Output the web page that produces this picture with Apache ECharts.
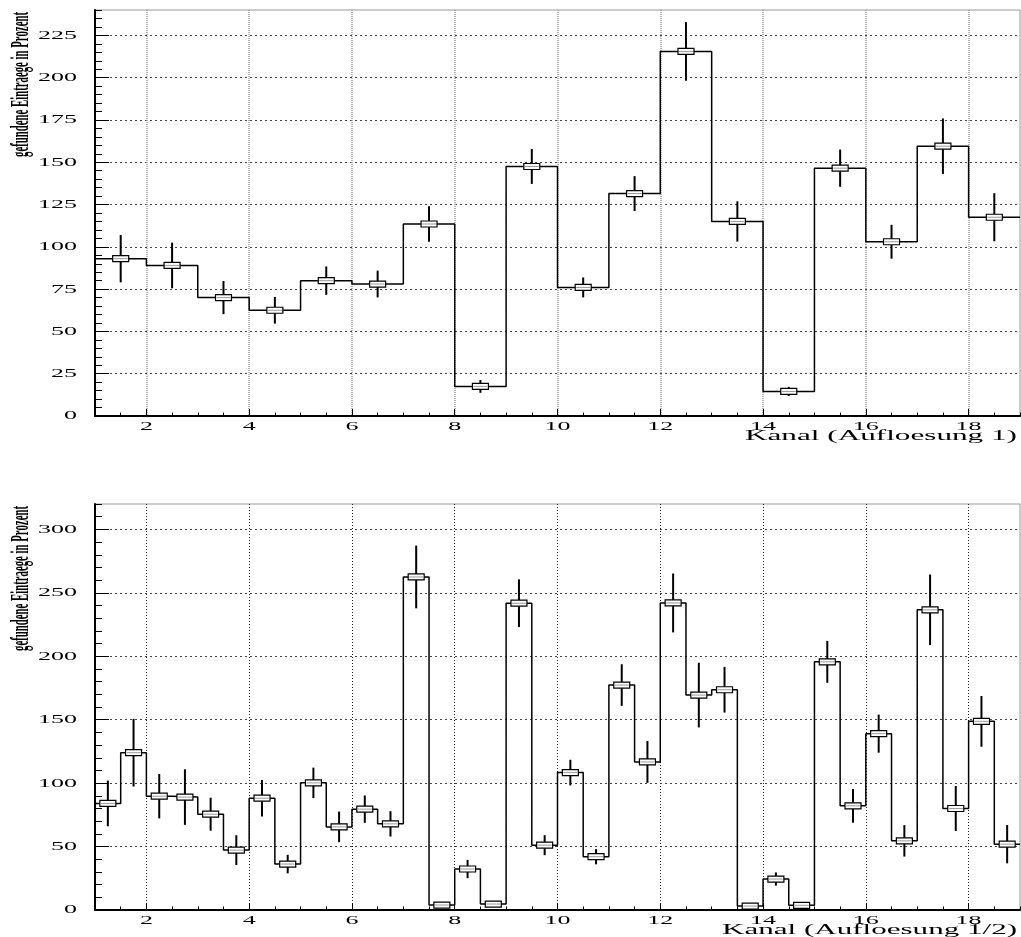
<!DOCTYPE html>
<html><head><meta charset="utf-8">
<script src="https://cdn.jsdelivr.net/npm/echarts@6/dist/echarts.min.js"></script>
<style>html,body{margin:0;padding:0;background:#fff}#c{width:1021px;height:937px}</style>
</head><body><div id="c"></div>
<script>
// ---- data ----
const xMin = 1, xMax = 19;
const xTickLabels = [2, 4, 6, 8, 10, 12, 14, 16, 18];
const topYTicks = [0, 25, 50, 75, 100, 125, 150, 175, 200, 225];
const botYTicks = [0, 50, 100, 150, 200, 250, 300];
const yTitle = 'gefundene Eintraege in Prozent';
const topXTitle = 'Kanal (Aufloesung 1)';
const botXTitle = 'Kanal (Aufloesung 1/2)';
// resolution 1 : 18 bins of width 1
const topValues = [93, 89, 70, 62.5, 80, 78, 113.5, 17.5, 147.5, 76, 131.5, 215.5, 115, 14.5, 146.5, 103, 159.5, 117.5];
const topErrors = [14, 13.5, 9.8, 7.9, 8.4, 7.9, 10.5, 3.8, 10.3, 5.9, 10.3, 17.3, 11.9, 2.7, 11, 10, 16.4, 14.2];
// resolution 1/2 : 36 bins of width 0.5
const botValues = [84, 124, 89.7, 89, 75.5, 47.2, 88.1, 36.2, 100.2, 65.5,
  79.5, 67.9, 262.5, 3.9, 32.3, 4.7, 241.8, 51.1, 108.3, 42, 177.3, 116.7,
  242, 169.4, 173.6, 3.1, 24.4, 3.7, 195.6, 82.1, 139, 54.5, 236.6, 80, 148.7, 51.9];
const botErrors = [18, 26.7, 17.5, 21.9, 13, 11.7, 14.4, 7.3, 12, 12.1,
  10.8, 10, 24.7, 1.5, 7.2, 1.5, 18.8, 7.9, 10.1, 6, 16.4, 16.5,
  23.2, 25.5, 18, 1.5, 5.2, 1.5, 16.5, 13.3, 15, 12.4, 27.8, 17.7, 20, 15.1];

// ---- helpers ----
function stepData(vals) {
  const w = (xMax - xMin) / vals.length;
  const d = vals.map((v, i) => [xMin + i * w, v]);
  d.push([xMax, vals[vals.length - 1]]);
  return d;
}
function pointData(vals, errs) {
  const w = (xMax - xMin) / vals.length;
  return vals.map((v, i) => [xMin + (i + 0.5) * w, v, v - errs[i], v + errs[i]]);
}
function renderErr(params, api) {
  const x = api.value(0);
  const c = api.coord([x, api.value(1)]);
  const lo = api.coord([x, api.value(2)]);
  const hi = api.coord([x, api.value(3)]);
  const bw = 16, bh = 6;
  const ch = [];
  if (hi[1] < c[1] - bh / 2) ch.push({ type: 'line', shape: { x1: c[0], y1: hi[1], x2: c[0], y2: c[1] - bh / 2 }, style: { stroke: '#000', lineWidth: 2 } });
  if (lo[1] > c[1] + bh / 2) ch.push({ type: 'line', shape: { x1: c[0], y1: c[1] + bh / 2, x2: c[0], y2: lo[1] }, style: { stroke: '#000', lineWidth: 2 } });
  ch.push({ type: 'rect', shape: { x: c[0] - bw / 2, y: c[1] - bh / 2, width: bw, height: bh }, style: { fill: '#fff', stroke: '#000', lineWidth: 1.2 } });
  ch.push({ type: 'line', shape: { x1: c[0] - bw / 2 + 1, y1: c[1], x2: c[0] + bw / 2 - 1, y2: c[1] }, style: { stroke: '#999', lineWidth: 1 } });
  return { type: 'group', children: ch };
}
function xAxes(gi, vertGrid) {
  return [
    { gridIndex: gi, type: 'value', min: xMin, max: xMax, interval: 0.5,
      axisLine: { show: true, onZero: false, lineStyle: { color: '#000', width: 2 } },
      axisTick: { show: true, inside: true, length: 3.5, lineStyle: { color: '#000', width: 1 } },
      axisLabel: { show: false }, splitLine: { show: false } },
    { gridIndex: gi, type: 'value', position: 'bottom', min: xMin, max: xMax,
      axisLine: { show: false },
      axisTick: { show: true, inside: true, length: 7, customValues: xTickLabels, lineStyle: { color: '#000', width: 1 } },
      axisLabel: { show: false, customValues: xTickLabels },
      splitLine: { show: true, lineStyle: vertGrid } }
  ];
}
function yAxes(gi, yMax, minorStep, majorTicks) {
  return [
    { gridIndex: gi, type: 'value', position: 'left', min: 0, max: yMax, interval: minorStep,
      axisLine: { show: true, onZero: false, lineStyle: { color: '#000', width: 2 } },
      axisTick: { show: true, inside: true, length: 7, lineStyle: { color: '#000', width: 1 } },
      axisLabel: { show: false }, splitLine: { show: false } },
    { gridIndex: gi, type: 'value', position: 'left', min: 0, max: yMax,
      axisLine: { show: false },
      axisTick: { show: true, inside: true, length: 14, customValues: majorTicks, lineStyle: { color: '#000', width: 1 } },
      axisLabel: { show: false, customValues: majorTicks },
      splitLine: { show: true, lineStyle: { color: '#444', width: 1, type: [2, 3] } } }
  ];
}

const chart = echarts.init(document.getElementById('c'), null, { renderer: 'canvas' });
const gridBox = { show: true, borderColor: '#999', borderWidth: 1, backgroundColor: 'transparent' };
chart.setOption({
  animation: false,
  backgroundColor: '#fff',
  grid: [
    Object.assign({ left: 95, top: 10, width: 925, height: 406 }, gridBox),
    Object.assign({ left: 95, top: 504, width: 925, height: 406 }, gridBox)
  ],
  xAxis: [].concat(
    xAxes(0, { color: '#999', width: 1.5, type: [1, 1] }),
    xAxes(1, { color: '#222', width: 1, type: [1, 2] })
  ),
  yAxis: [].concat(
    yAxes(0, 240, 5, topYTicks),
    yAxes(1, 320, 10, botYTicks)
  ),
  series: [
    { type: 'line', xAxisIndex: 0, yAxisIndex: 0, step: 'end', symbol: 'none', data: stepData(topValues),
      lineStyle: { color: '#000', width: 1.5 }, z: 3 },
    { type: 'custom', xAxisIndex: 0, yAxisIndex: 0, data: pointData(topValues, topErrors),
      encode: { x: 0, y: [1, 2, 3] }, renderItem: renderErr, z: 4 },
    { type: 'line', xAxisIndex: 2, yAxisIndex: 2, step: 'end', symbol: 'none', data: stepData(botValues),
      lineStyle: { color: '#000', width: 1.5 }, z: 3 },
    { type: 'custom', xAxisIndex: 2, yAxisIndex: 2, data: pointData(botValues, botErrors),
      encode: { x: 0, y: [1, 2, 3] }, renderItem: renderErr, z: 4 }
  ]
});

// ---- stretched text labels placed through the axes ----
const ctx = document.createElement('canvas').getContext('2d');
function measure(text, font) { ctx.font = font; return ctx.measureText(text).width; }
const LBL_FONT = '13px "Liberation Serif"';
const TITLE_FONT = '14px "Liberation Serif"';
const YT_FONT = 'bold 26px "Liberation Serif"';
const g = [];
[[0, topYTicks, topXTitle, 272], [1, botYTicks, botXTitle, 295]].forEach(([gi, ticks, xt, xtW]) => {
  const ax = gi * 2;
  const left = chart.convertToPixel({ xAxisIndex: ax }, xMin);
  const right = chart.convertToPixel({ xAxisIndex: ax }, xMax);
  const bottom = chart.convertToPixel({ yAxisIndex: ax }, 0);
  const top = chart.convertToPixel({ yAxisIndex: ax }, gi === 0 ? 240 : 320);
  ticks.forEach(v => {
    const py = chart.convertToPixel({ yAxisIndex: ax }, v);
    g.push({ type: 'text', x: left - 18, y: py, scaleX: 2.0, z: 10,
      style: { text: String(v), font: LBL_FONT, fill: '#000', align: 'right', verticalAlign: 'middle' } });
  });
  xTickLabels.forEach(v => {
    const px = chart.convertToPixel({ xAxisIndex: ax }, v);
    g.push({ type: 'text', x: px, y: bottom + 4, scaleX: 2.0, z: 10,
      style: { text: String(v), font: LBL_FONT, fill: '#000', align: 'center', verticalAlign: 'top' } });
  });
  g.push({ type: 'text', x: right - 3, y: bottom + 20, scaleX: xtW / measure(xt, TITLE_FONT), z: 10,
    style: { text: xt, font: TITLE_FONT, fill: '#000', align: 'right', verticalAlign: 'middle' } });
  g.push({ type: 'text', x: 21, y: top + 2, rotation: Math.PI / 2, scaleX: 145 / measure(yTitle, YT_FONT), z: 10,
    style: { text: yTitle, font: YT_FONT, fill: '#000', align: 'right', verticalAlign: 'middle' } });
});
chart.setOption({ graphic: g });
</script>
</body></html>
